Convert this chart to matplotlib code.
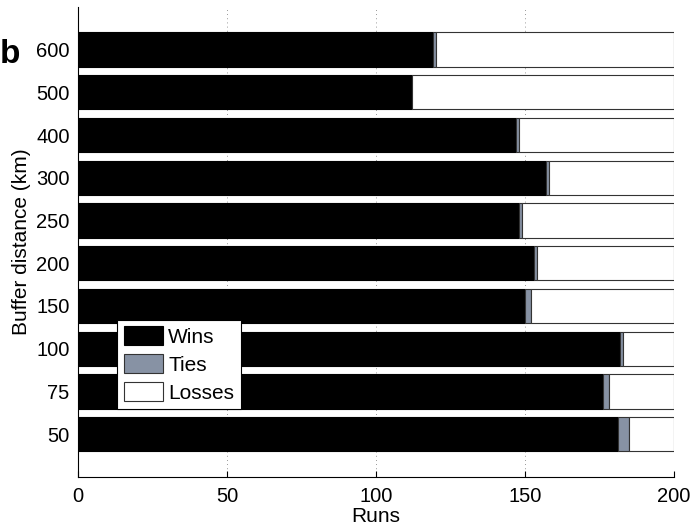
import numpy as np
import matplotlib
matplotlib.use('Agg')
import matplotlib.pyplot as plt

plt.rcParams['font.family'] = ['Liberation Sans', 'DejaVu Sans']

# distancias de buffer (km), de abajo hacia arriba
distancias = ['50', '75', '100', '150', '200', '250', '300', '400', '500', '600']
wins = [181, 176, 182, 150, 153, 148, 157, 147, 112, 119]
ties = [4, 2, 1, 2, 1, 1, 1, 1, 0, 1]
losses = [15, 22, 17, 48, 46, 51, 42, 52, 88, 80]

col_wins = 'black'
col_ties = '#8792a4'
col_losses = 'white'

fig = plt.figure(figsize=(6.94, 5.27), dpi=100)
ax = fig.add_axes([0.1124, 0.095, 0.859, 0.892])

y = np.arange(1, len(distancias) + 1)
w = np.array(wins)
t = np.array(ties)
l = np.array(losses)

ax.barh(y, w, height=0.8, color=col_wins, edgecolor='black', linewidth=0.8, label='Wins', zorder=3)
ax.barh(y, t, left=w, height=0.8, color=col_ties, edgecolor='#333333', linewidth=0.8, label='Ties', zorder=3)
ax.barh(y, l, left=w + t, height=0.8, color=col_losses, edgecolor='#333333', linewidth=0.8, label='Losses', zorder=3)

ax.set_xlim(0, 200)
ax.set_ylim(0, 11)
ax.set_xticks([0, 50, 100, 150, 200])
ax.set_yticks(y)
ax.set_yticklabels(distancias)
ax.tick_params(direction='in', labelsize=14.5, length=4)
ax.tick_params(axis='x', pad=7)
ax.tick_params(axis='y', pad=6)
ax.xaxis.grid(True, linestyle=(0, (1, 4)), color='#777777', linewidth=0.6, zorder=0)

ax.spines['top'].set_visible(False)
ax.spines['right'].set_visible(False)

ax.set_xlabel('Runs', fontsize=15, labelpad=1)
ax.set_ylabel('Buffer distance (km)', fontsize=15, labelpad=4)

leg = ax.legend(loc='lower left', bbox_to_anchor=(0.066, 0.145), fontsize=15,
                frameon=True, fancybox=False, edgecolor='black', framealpha=1,
                handlelength=1.9, handleheight=1.05, handletextpad=0.25,
                labelspacing=0.34, borderpad=0.3, borderaxespad=0)
leg.get_frame().set_linewidth(0.8)
leg.set_zorder(5)

fig.text(0.0, 0.896, 'b', fontsize=24, fontweight='bold', va='center', ha='left')

fig.savefig('out.png', dpi=100)
